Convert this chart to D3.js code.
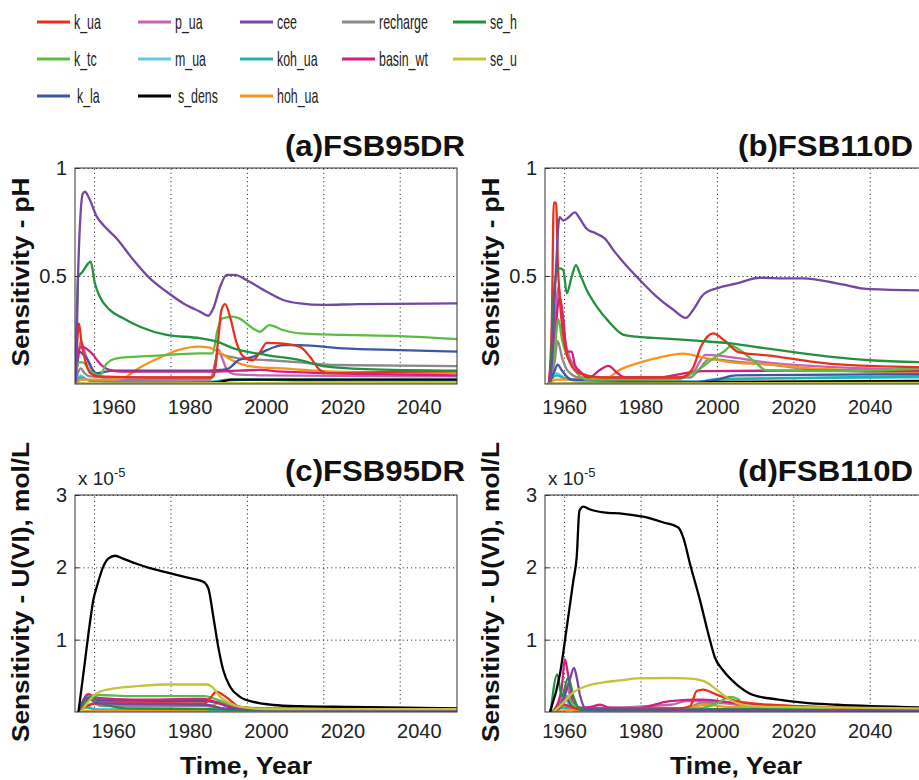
<!DOCTYPE html>
<html>
<head>
<meta charset="utf-8">
<script src="https://cdn.jsdelivr.net/npm/d3@7"></script>
<style>
  body { margin: 0; background: #fff; }
  svg { display: block; font-family: "Liberation Sans", Arial, Helvetica, sans-serif; }
  .grid line { stroke: #333; stroke-dasharray: 1.2,3; stroke-width: 1; }
  .grid path { display: none; }
  .axis path { display: none; }
  .axis line { stroke: #333; }
  .axis text { font-size: 20px; fill: #222; }
  .series { fill: none; stroke-width: 2.3; stroke-linejoin: round; stroke-linecap: round; }
</style>
</head>
<body>
<svg id="chart" width="919" height="780"></svg>
<script>
// Sensitivity of pH and U(VI) to model parameters, FSB95DR vs FSB110D

const seriesNames  = ["k_ua","p_ua","cee","recharge","se_h","k_tc","m_ua","koh_ua","basin_wt","se_u","k_la","s_dens","hoh_ua"];
const seriesColors = ["#e8301f","#c564b0","#7447a3","#8a8a8a","#22913f","#5cbd45","#62cbe2","#1fb5ae","#d21f80","#c4c23a","#3b57a6","#000000","#f7941d"];
// later entries end up on top
const drawOrder = ["m_ua","koh_ua","recharge","p_ua","hoh_ua","k_la","basin_wt","k_tc","k_ua","se_h","cee","s_dens","se_u"];

const xLabelYears = [1960, 1980, 2000, 2020, 2040];
const gridYearsLeft = [1955, 1975, 1995, 2015, 2035];   // grid in left panels sits off the labels
const gridYearsRight = [1960, 1980, 2000, 2020, 2040];
const pHTicks = [0.5, 1];
const uTicks = [1, 2, 3];   // x 10^-5

// ---- (a) pH, FSB95DR : [year, sensitivity] ----
const pH95 = {
  k_ua: [[1950,0],[1950.6,0.2],[1951,0.28],[1951.8,0.18],[1952.8,0.1],[1954,0.05],[1956,0.035],[1970,0.03],[1985,0.03],[1986.2,0.035],[1987.4,0.19],[1988.3,0.34],[1989.3,0.37],[1990.6,0.31],[1992.3,0.19],[1994.1,0.126],[1996.6,0.11],[1998.5,0.15],[2000.2,0.19],[2003.7,0.188],[2008.9,0.172],[2011.5,0.126],[2014.1,0.065],[2016,0.05],[2030,0.055],[2050,0.06]],
  p_ua: [[1950,0],[1950.8,0.12],[1951.5,0.2],[1952.5,0.15],[1954,0.08],[1956,0.04],[1960,0.02],[1985,0.02],[1986.5,0.05],[1987.5,0.16],[1988.5,0.12],[1990,0.06],[1992,0.045],[2000,0.04],[2050,0.035]],
  cee: [[1950.2,0],[1950.8,0.5],[1951.5,0.8],[1952,0.88],[1952.6,0.89],[1953.7,0.86],[1955.7,0.775],[1957.4,0.736],[1960.9,0.674],[1965.3,0.574],[1969.6,0.489],[1974,0.427],[1978.4,0.373],[1982.7,0.335],[1984.9,0.316],[1986.2,0.35],[1988,0.45],[1989.7,0.505],[1991.9,0.505],[1995,0.48],[2000.2,0.427],[2004.5,0.389],[2008.9,0.373],[2015,0.366],[2024,0.37],[2050,0.373]],
  recharge: [[1950,0],[1951.5,0.072],[1952.5,0.05],[1954,0.035],[1960,0.03],[1985.5,0.03],[1987.5,0.142],[1989,0.134],[1992.8,0.119],[2000,0.111],[2009,0.1],[2017,0.088],[2050,0.083]],
  se_h: [[1950.2,0],[1950.8,0.5],[1951.6,0.512],[1954.1,0.566],[1955.2,0.466],[1956.5,0.404],[1959.1,0.343],[1962.6,0.304],[1967,0.265],[1974,0.227],[1982.7,0.212],[1987.1,0.196],[1991.5,0.165],[2000.2,0.134],[2008.9,0.111],[2015,0.083],[2026,0.069],[2050,0.062]],
  k_tc: [[1950,0],[1951,0.1],[1952,0.1],[1954,0.06],[1956.5,0.04],[1958.3,0.095],[1961,0.119],[1970,0.13],[1982.7,0.142],[1986,0.142],[1987.3,0.25],[1988.6,0.304],[1991.3,0.312],[1993,0.304],[1996.6,0.257],[1998.4,0.242],[2000.9,0.273],[2004.4,0.25],[2008.9,0.234],[2020,0.227],[2035,0.222],[2050,0.208]],
  m_ua: [[1950,0],[1951.5,0.04],[1953,0.02],[1960,0.01],[1985,0.01],[1990,0.015],[1995,0.02],[2008,0.015],[2015,0.01],[2050,0.01]],
  koh_ua: [[1950,0],[1951.5,0.03],[1954,0.015],[1985,0.01],[1990,0.02],[2050,0.02]],
  basin_wt: [[1950,0],[1950.8,0.14],[1951.7,0.173],[1954.5,0.14],[1956.5,0.095],[1959,0.065],[1962,0.057],[1985,0.057],[1990,0.06],[1998.5,0.065],[2004,0.057],[2050,0.04]],
  se_u: [[1950,0.002],[1990,0.004],[2050,0.005]],
  k_la: [[1950,0],[1950.8,0.12],[1951,0.15],[1953,0.12],[1955.5,0.05],[1960,0.062],[1985,0.062],[1988,0.065],[1990,0.07],[1992.8,0.11],[1996.6,0.126],[2000.2,0.157],[2004.5,0.18],[2008.9,0.18],[2020,0.165],[2035,0.157],[2050,0.15]],
  s_dens: [[1950,0],[1985,0.005],[1988,0.01],[1991,0.02],[2050,0.02]],
  hoh_ua: [[1950,0],[1952,0.02],[1960,0.02],[1963,0.03],[1966.6,0.072],[1971.8,0.119],[1977,0.157],[1982.3,0.173],[1984.9,0.17],[1987.5,0.15],[1991,0.111],[1996.6,0.08],[2004.4,0.072],[2017.5,0.057],[2050,0.05]]
};

// ---- (b) pH, FSB110D ----
const pH110 = {
  k_ua: [[1956,0],[1956.8,0.3],[1957.3,0.84],[1957.9,0.84],[1958.4,0.54],[1958.9,0.39],[1959.8,0.22],[1961.5,0.1],[1964,0.05],[1970,0.03],[1990.5,0.03],[1993.5,0.067],[1995.9,0.176],[1999,0.234],[2002.1,0.2],[2005.6,0.148],[2014,0.131],[2023,0.108],[2031,0.092],[2055,0.077]],
  p_ua: [[1956,0],[1957.5,0.2],[1958.5,0.45],[1959.5,0.3],[1960.5,0.18],[1961.5,0.12],[1964,0.06],[1968,0.03],[1990,0.03],[1994,0.06],[1997,0.135],[2002,0.128],[2014,0.098],[2055,0.064]],
  cee: [[1956,0],[1956.8,0.1],[1957.9,0.543],[1958.8,0.772],[1959.8,0.757],[1961.2,0.772],[1962.8,0.795],[1964.1,0.766],[1965.9,0.719],[1968.5,0.696],[1970.7,0.673],[1972.9,0.62],[1975.4,0.566],[1979.8,0.482],[1984.2,0.405],[1988.6,0.344],[1991.9,0.306],[1993.8,0.344],[1996.4,0.413],[1999.9,0.443],[2005.2,0.466],[2011.3,0.492],[2018.3,0.489],[2022.6,0.489],[2031.4,0.466],[2040.1,0.439],[2055,0.433]],
  recharge: [[1956,0],[1957.5,0.1],[1958.3,0.2],[1959.5,0.12],[1961,0.06],[1964,0.03],[1993,0.03],[1995,0.06],[1998,0.115],[2005,0.104],[2014,0.09],[2023,0.07],[2055,0.05]],
  se_h: [[1956.4,0],[1957.6,0.47],[1958.8,0.535],[1959.8,0.527],[1960.7,0.42],[1962,0.497],[1963.1,0.55],[1964.1,0.512],[1965.9,0.436],[1968.5,0.359],[1972,0.283],[1975.4,0.229],[1979,0.219],[1986.6,0.21],[1995.3,0.2],[2004.1,0.187],[2012.8,0.165],[2021.5,0.144],[2030,0.126],[2040,0.11],[2055,0.1]],
  k_tc: [[1956,0],[1957.5,0.15],[1958.5,0.3],[1959.5,0.2],[1961,0.12],[1963.4,0.05],[1966,0.02],[1989,0.02],[1995.2,0.067],[1999.8,0.128],[2002.1,0.154],[2003.8,0.178],[2006,0.157],[2010.4,0.095],[2012.8,0.064],[2030,0.06],[2055,0.072]],
  m_ua: [[1956,0],[1958,0.05],[1960,0.03],[1965,0.01],[1995,0.01],[2000,0.025],[2055,0.03]],
  koh_ua: [[1956,0],[1958,0.04],[1961,0.02],[1995,0.01],[2000,0.02],[2055,0.035]],
  basin_wt: [[1956,0],[1957.5,0.2],[1958.8,0.4],[1959.8,0.3],[1960.7,0.15],[1962,0.15],[1962.8,0.09],[1964,0.06],[1966.6,0.03],[1969,0.06],[1971.6,0.084],[1974,0.05],[1976,0.03],[1985,0.03],[1990,0.045],[1996,0.06],[2020,0.062],[2055,0.06]],
  se_u: [[1956,0.002],[2055,0.005]],
  k_la: [[1956,0],[1957.5,0.06],[1958.3,0.09],[1959.5,0.06],[1962,0.02],[1995,0.01],[2000,0.02],[2005,0.04],[2055,0.045]],
  s_dens: [[1956,0],[1995,0.005],[2000,0.01],[2055,0.015]],
  hoh_ua: [[1956,0],[1958,0.02],[1962,0.02],[1971.5,0.03],[1974,0.06],[1978.5,0.092],[1984.2,0.12],[1991.2,0.141],[1996.4,0.122],[2005,0.098],[2014,0.09],[2023,0.075],[2055,0.055]]
};

// ---- (c) U(VI), FSB95DR : values in 1e-5 mol/L ----
const u95 = {
  k_ua: [[1951,0],[1953,0.08],[1956,0.12],[1984,0.12],[1985.5,0.2],[1987,0.28],[1989.7,0.2],[1993.2,0.07],[2000,0.04],[2050,0.03]],
  p_ua: [[1951,0],[1953.5,0.25],[1956,0.15],[1984,0.1],[1990,0.04],[2050,0.02]],
  cee: [[1951,0],[1953,0.2],[1956,0.12],[1984,0.1],[1990,0.04],[2050,0.02]],
  recharge: [[1951,0],[1954.8,0.12],[1957,0.08],[1984,0.08],[1990,0.04],[2050,0.02]],
  se_h: [[1951,0],[1952.5,0.12],[1954.2,0.21],[1956.5,0.12],[1959.5,0.08],[1963,0.05],[1985,0.04],[1992,0.03],[2050,0.02]],
  k_tc: [[1951,0],[1953,0.2],[1956.5,0.235],[1965,0.22],[1984,0.22],[1986.2,0.19],[1989.7,0.12],[1993.2,0.07],[2000,0.05],[2050,0.03]],
  m_ua: [[1951,0],[1952.5,0.1],[1955,0.04],[1990,0.03],[2050,0.01]],
  koh_ua: [[1951,0],[1953,0.06],[1956,0.03],[1990,0.02],[2050,0.01]],
  basin_wt: [[1951,0],[1953.5,0.24],[1956.5,0.19],[1965,0.17],[1983.5,0.18],[1986.2,0.15],[1990.6,0.08],[1995,0.04],[2050,0.03]],
  se_u: [[1951.5,0],[1952.2,0.05],[1953.9,0.17],[1956.5,0.28],[1960.9,0.33],[1967,0.36],[1974,0.38],[1984.5,0.38],[1985.8,0.35],[1988,0.21],[1990.6,0.12],[1993.2,0.07],[2000.2,0.04],[2050,0.04]],
  k_la: [[1951,0],[1953.9,0.2],[1956.5,0.16],[1984.5,0.15],[1987.5,0.12],[1992,0.05],[2050,0.03]],
  s_dens: [[1950.9,0],[1952.2,0.53],[1953.9,1.23],[1954.8,1.55],[1955.7,1.73],[1957.4,2.01],[1958.7,2.12],[1960.5,2.16],[1962.6,2.12],[1966.1,2.05],[1969.6,1.99],[1974,1.93],[1979.2,1.86],[1983.6,1.8],[1984.9,1.71],[1986.2,1.32],[1987.5,0.9],[1988.8,0.58],[1990.6,0.35],[1993.2,0.21],[1996.7,0.14],[2001.9,0.097],[2008.9,0.08],[2022,0.07],[2050,0.05]],
  hoh_ua: [[1951,0],[1955,0.02],[1984,0.02],[1986.5,0.1],[1988,0.15],[1990,0.08],[1994,0.03],[2050,0.02]]
};

// ---- (d) U(VI), FSB110D ----
const u110 = {
  k_ua: [[1957,0],[1960,0.1],[1963,0.05],[1990,0.05],[1993,0.08],[1994.7,0.29],[1996.4,0.31],[1999.9,0.24],[2005.2,0.15],[2013.9,0.1],[2022.6,0.08],[2031.4,0.06],[2055,0.04]],
  p_ua: [[1957,0],[1959.5,0.2],[1960.7,0.35],[1962,0.15],[1965,0.05],[1988,0.1],[1992,0.15],[2000,0.15],[2006,0.1],[2020,0.06],[2055,0.04]],
  cee: [[1957,0],[1960,0.2],[1961.5,0.45],[1962.6,0.61],[1963.4,0.45],[1964.2,0.22],[1965.9,0.04],[1990,0.03],[2055,0.02]],
  recharge: [[1957,0],[1960,0.1],[1962,0.04],[1992,0.05],[1996,0.13],[2002,0.12],[2010,0.07],[2055,0.04]],
  se_h: [[1956.5,0],[1958.2,0.52],[1959.4,0.22],[1961.1,0.475],[1962.4,0.22],[1964.2,0.04],[1990,0.03],[2000,0.04],[2055,0.02]],
  k_tc: [[1957,0],[1959,0.1],[1960.7,0.22],[1962.5,0.1],[1965,0.04],[1995,0.05],[2000,0.12],[2003.4,0.21],[2005.5,0.18],[2006.9,0.1],[2015,0.06],[2055,0.04]],
  m_ua: [[1957,0],[1960.5,0.15],[1962,0.05],[1970,0.02],[2055,0.02]],
  koh_ua: [[1957,0],[1960,0.06],[1963,0.02],[2055,0.02]],
  basin_wt: [[1957,0],[1959.3,0.3],[1960.2,0.73],[1961.1,0.5],[1962.4,0.13],[1964.2,0.06],[1967,0.07],[1969.4,0.1],[1972,0.06],[1979,0.05],[1987.7,0.15],[1996.4,0.17],[2005.2,0.12],[2020,0.07],[2055,0.05]],
  se_u: [[1957.2,0],[1959.8,0.13],[1962.4,0.27],[1965.9,0.36],[1970.3,0.41],[1975.5,0.44],[1979,0.465],[1987.7,0.47],[1992.1,0.465],[1996.4,0.43],[1999.9,0.31],[2003.4,0.17],[2006.9,0.1],[2013.9,0.07],[2055,0.05]],
  k_la: [[1957,0],[1959.5,0.1],[1960.5,0.2],[1962,0.08],[1965,0.03],[2055,0.04]],
  s_dens: [[1956.3,0],[1958.9,0.52],[1960.7,1.17],[1962.4,1.81],[1963.3,2.14],[1964,2.78],[1965,2.84],[1966.8,2.8],[1970.3,2.76],[1975.5,2.74],[1980.7,2.7],[1986,2.62],[1989.9,2.55],[1991.2,2.41],[1993,2.04],[1995.6,1.54],[1997.8,1.07],[1999.5,0.75],[2001.7,0.57],[2005.2,0.38],[2009.5,0.235],[2015.7,0.175],[2022.6,0.13],[2031.4,0.1],[2055,0.06]],
  hoh_ua: [[1957,0],[1962,0.03],[1990,0.03],[1997,0.1],[2003,0.07],[2055,0.03]]
};

const svg = d3.select("#chart");
svg.append("rect").attr("width", 919).attr("height", 780).attr("fill", "#fff");

const colorOf = d3.scaleOrdinal().domain(seriesNames).range(seriesColors);

// ---- legend (3 rows x 5 columns) ----
const legCols = [37, 138, 240, 342, 453];
const legRows = [22, 59, 96];
seriesNames.forEach((name, i) => {
  const cx = legCols[i % 5], cy = legRows[Math.floor(i / 5)];
  const item = svg.append("g").attr("transform", `translate(${cx},${cy})`);
  item.append("line").attr("x1", 0).attr("x2", 33).attr("y1", 0).attr("y2", 0)
    .attr("stroke", colorOf(name)).attr("stroke-width", 3);
  item.append("text")
    .attr("transform", `translate(${37 + (name === "k_la" || name === "s_dens" ? 3 : 0)},7) scale(0.62,1)`)
    .attr("font-size", 20).attr("fill", "#222").text(name);
});

// ---- panels ----
const W = 382;
const panels = [
  { data: pH95,  x0: 75,  y0: 168, h: 216, years: [1950, 2050], yMax: 1, yTicks: pHTicks, grid: gridYearsLeft,
    title: "(a)FSB95DR", tx: 465, ty: 156, tw: 180, labPad: 16 },
  { data: pH110, x0: 545, y0: 168, h: 216, years: [1955, 2055], yMax: 1, yTicks: pHTicks, grid: gridYearsRight,
    title: "(b)FSB110D", tx: 913, ty: 156, tw: 175, labPad: 16 },
  { data: u95,   x0: 75,  y0: 495, h: 217, years: [1950, 2050], yMax: 3, yTicks: uTicks, grid: gridYearsLeft,
    title: "(c)FSB95DR", tx: 465, ty: 481, tw: 180, labPad: 12, exp: true },
  { data: u110,  x0: 545, y0: 495, h: 217, years: [1955, 2055], yMax: 3, yTicks: uTicks, grid: gridYearsRight,
    title: "(d)FSB110D", tx: 913, ty: 481, tw: 175, labPad: 12, exp: true }
];

panels.forEach((p, pi) => {
  const x = d3.scaleLinear().domain(p.years).range([0, W]);
  const y = d3.scaleLinear().domain([0, p.yMax]).range([p.h, 0]);
  const g = svg.append("g").attr("transform", `translate(${p.x0},${p.y0})`);

  g.append("clipPath").attr("id", "clip" + pi)
    .append("rect").attr("width", W).attr("height", p.h);

  // dotted grid
  g.append("g").attr("class", "grid")
    .call(d3.axisLeft(y).tickValues(p.yTicks).tickSize(-W).tickFormat(""));
  g.append("g").attr("class", "grid")
    .attr("transform", `translate(0,${p.h})`)
    .call(d3.axisBottom(x).tickValues(p.grid).tickSize(-p.h).tickFormat(""));

  // series lines
  const line = d3.line().x(d => x(d[0])).y(d => y(d[1])).curve(d3.curveMonotoneX);
  const lines = g.append("g").attr("clip-path", `url(#clip${pi})`);
  drawOrder.forEach(name => {
    lines.append("path").attr("class", "series")
      .attr("d", line(p.data[name]))
      .attr("stroke", colorOf(name));
  });

  // box
  g.append("rect").attr("width", W).attr("height", p.h)
    .attr("fill", "none").attr("stroke", "#333").attr("stroke-width", 1);

  // axes
  g.append("g").attr("class", "axis")
    .call(d3.axisLeft(y).tickValues(p.yTicks).tickSize(-4).tickPadding(8).tickFormat(d3.format("")));
  g.append("g").attr("class", "axis")
    .attr("transform", `translate(0,${p.h})`)
    .call(d3.axisBottom(x).tickValues(xLabelYears).tickSize(0).tickPadding(p.labPad).tickFormat(d3.format("d")));

  // title
  svg.append("text").attr("x", p.tx).attr("y", p.ty)
    .attr("text-anchor", "end").attr("font-size", 29).attr("font-weight", "bold").attr("fill", "#111")
    .attr("textLength", p.tw).attr("lengthAdjust", "spacingAndGlyphs")
    .text(p.title);

  if (p.exp) {
    const t = svg.append("text").attr("x", p.x0 + 3).attr("y", p.y0 - 10)
      .attr("font-size", 19).attr("fill", "#222");
    t.append("tspan").text("x 10");
    t.append("tspan").attr("dy", -8).attr("font-size", 13).text("-5");
  }
});

// ---- axis titles ----
function yTitle(xPos, yMid, txt, len) {
  svg.append("text")
    .attr("transform", `translate(${xPos},${yMid}) rotate(-90)`)
    .attr("text-anchor", "middle").attr("font-size", 24).attr("font-weight", "bold").attr("fill", "#111")
    .attr("textLength", len).attr("lengthAdjust", "spacingAndGlyphs")
    .text(txt);
}
yTitle(29, 272, "Sensitivity - pH", 189);
yTitle(499, 272, "Sensitivity - pH", 189);
yTitle(29, 592, "Sensitivity - U(VI), mol/L", 300);
yTitle(499, 592, "Sensitivity - U(VI), mol/L", 300);

[246, 736].forEach(cx => {
  svg.append("text").attr("x", cx).attr("y", 774)
    .attr("text-anchor", "middle").attr("font-size", 23).attr("font-weight", "bold").attr("fill", "#111")
    .attr("textLength", 132).attr("lengthAdjust", "spacingAndGlyphs")
    .text("Time, Year");
});
</script>
</body>
</html>
